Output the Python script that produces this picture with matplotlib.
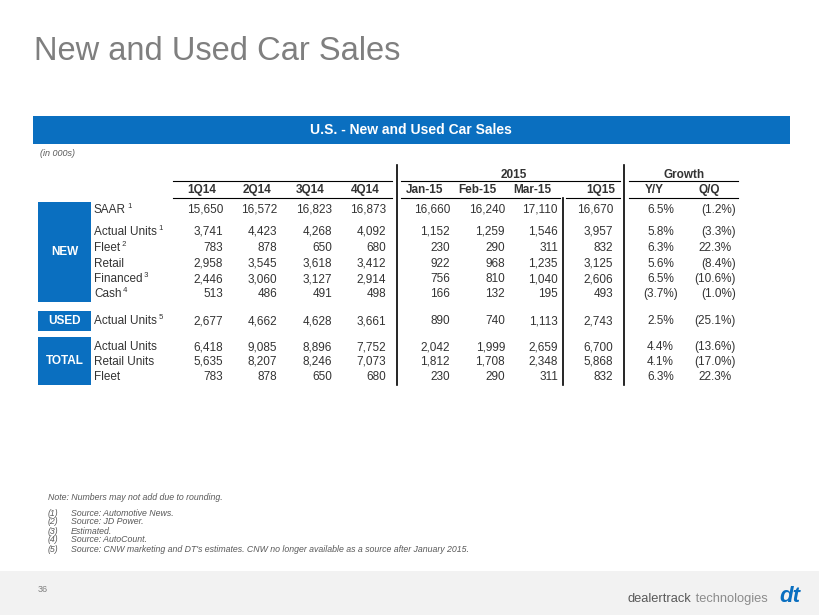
import matplotlib
matplotlib.use("Agg")
import matplotlib.pyplot as plt
from matplotlib.patches import Rectangle

plt.rcParams['font.family'] = ['Liberation Sans', 'DejaVu Sans']

# table data
periods = ["1Q14", "2Q14", "3Q14", "4Q14", "Jan-15", "Feb-15", "Mar-15", "1Q15"]
growth_cols = ["Y/Y", "Q/Q"]
row_labels = ["SAAR", "Actual Units", "Fleet", "Retail", "Financed", "Cash",
              "Actual Units", "Actual Units", "Retail Units", "Fleet"]
row_notes = ["1", "1", "2", "", "3", "4", "5", "", "", ""]
values = [
    [15650, 16572, 16823, 16873, 16660, 16240, 17110, 16670],
    [3741, 4423, 4268, 4092, 1152, 1259, 1546, 3957],
    [783, 878, 650, 680, 230, 290, 311, 832],
    [2958, 3545, 3618, 3412, 922, 968, 1235, 3125],
    [2446, 3060, 3127, 2914, 756, 810, 1040, 2606],
    [513, 486, 491, 498, 166, 132, 195, 493],
    [2677, 4662, 4628, 3661, 890, 740, 1113, 2743],
    [6418, 9085, 8896, 7752, 2042, 1999, 2659, 6700],
    [5635, 8207, 8246, 7073, 1812, 1708, 2348, 5868],
    [783, 878, 650, 680, 230, 290, 311, 832],
]
yoy = [6.5, 5.8, 6.3, 5.6, 6.5, -3.7, 2.5, 4.4, 4.1, 6.3]
qoq = [-1.2, -3.3, 22.3, -8.4, -10.6, -1.0, -25.1, -13.6, -17.0, 22.3]
groups = ["NEW", "USED", "TOTAL"]
footnotes = ["Source: Automotive News.", "Source: JD Power.", "Estimated.",
             "Source: AutoCount.",
             "Source: CNW marketing and DT's estimates. CNW no longer available as a source after January 2015."]

# layout (pixel coordinates)
col_right = [223, 277, 332, 386, 450, 505, 558, 613, 678, 736]
col_head = [202, 257, 310, 365, 425, 477, 532, 601, 654, 709]
row_y = [210, 232, 248, 264, 279, 294, 321, 347, 362, 377]
group_box = [(202, 302), (311, 331), (337, 385)]

blue = "#0a6fc0"
ink = "#333333"

fig = plt.figure(figsize=(8.2, 6.15), dpi=100)
ax = fig.add_axes([0, 0, 1, 1])
ax.set_xlim(0, 820)
ax.set_ylim(615, 0)
ax.axis("off")

# footer band
ax.add_patch(Rectangle((0, 571), 820, 44, color="#f2f2f2", lw=0))
ax.text(38, 590, "36", fontsize=6.5, color="#7f7f7f", va="center")
t = ax.text(628, 599, "dealertrack", fontsize=9.3, color="#595959", va="center")
ax.annotate(" technologies", xy=(1, 0.5), xycoords=t, fontsize=9.3, color="#8c8c8c",
            va="center")
ax.text(790, 597, "dt", fontsize=16, color=blue, fontweight="bold", style="italic",
        va="center", ha="center")

# title
ax.text(34, 52, "New and Used Car Sales", fontsize=23.5, color="#7f7f7f", va="center")

# blue banner
ax.add_patch(Rectangle((33, 116), 757, 28, color=blue, lw=0))
ax.text(411, 130, "U.S. - New and Used Car Sales", fontsize=10, color="white",
        fontweight="bold", ha="center", va="center")
ax.text(40, 153, "(in 000s)", fontsize=6.5, color="#595959", style="italic", va="center")

# header
ax.text(514, 175, "2015", fontsize=8.5, color=ink, fontweight="bold", ha="center", va="center")
ax.text(684, 175, "Growth", fontsize=8.5, color=ink, fontweight="bold", ha="center", va="center")
for x, lab in zip(col_head, periods + growth_cols):
    ax.text(x, 190, lab, fontsize=8.5, color=ink, fontweight="bold", ha="center", va="center")

for x0, x1 in [(173, 392), (401, 620), (629, 738)]:
    ax.plot([x0, x1], [181, 181], color="black", lw=0.8)
for x0, x1 in [(173, 392), (401, 560), (566, 620), (629, 738)]:
    ax.plot([x0, x1], [198, 198], color="black", lw=0.8)
ax.plot([397, 397], [165, 385], color="black", lw=1.2)
ax.plot([624, 624], [165, 385], color="black", lw=1.2)
ax.plot([563, 563], [198, 385], color="black", lw=1.2)

# group boxes
for (y0, y1), g in zip(group_box, groups):
    ax.add_patch(Rectangle((38, y0), 53, y1 - y0, color=blue, lw=0))
    ax.text(64.5, (y0 + y1) / 2, g, fontsize=8.5, color="white", fontweight="bold",
            ha="center", va="center")


def pct(v):
    return f"({abs(v):.1f}%)" if v < 0 else f"{v:.1f}%"


for i, y in enumerate(row_y):
    lt = ax.text(94, y, row_labels[i], fontsize=8.5, color=ink, va="center")
    if row_notes[i]:
        ax.annotate(" " + row_notes[i], xy=(1, 0.8), xycoords=lt, fontsize=5.5,
                    color=ink, va="center")
    for j, v in enumerate(values[i]):
        ax.text(col_right[j], y, f"{v:,}", fontsize=8.5, color=ink, ha="right", va="center")
    for j, v in enumerate([yoy[i], qoq[i]]):
        x = col_right[8 + j] - (0 if v < 0 else 4)
        ax.text(x, y, pct(v), fontsize=8.5, color=ink, ha="right", va="center")

# notes
ax.text(48, 497, "Note: Numbers may not add due to rounding.", fontsize=6.3,
        color="#595959", style="italic", va="center")
for k, note in enumerate(footnotes):
    y = 513 + 9 * k
    ax.text(48, y, f"({k + 1})", fontsize=6.3, color="#595959", style="italic", va="center")
    ax.text(71, y, note, fontsize=6.3, color="#595959", style="italic", va="center")

fig.savefig("out.png", dpi=100)
